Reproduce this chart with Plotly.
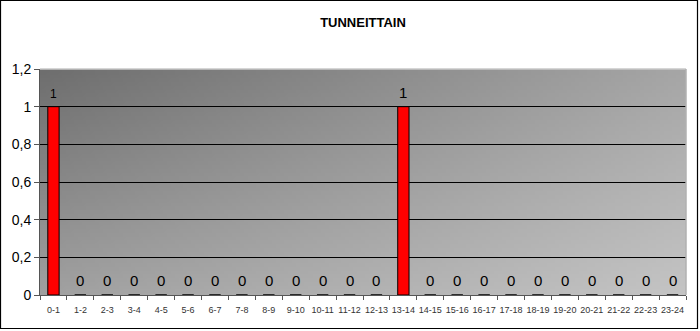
import base64, struct, zlib
import plotly.graph_objects as go

categories = ["0-1", "1-2", "2-3", "3-4", "4-5", "5-6", "6-7", "7-8", "8-9", "9-10",
              "10-11", "11-12", "12-13", "13-14", "14-15", "15-16", "16-17", "17-18",
              "18-19", "19-20", "20-21", "21-22", "22-23", "23-24"]
values = [1, 0, 0, 0, 0, 0, 0, 0, 0, 0, 0, 0, 0, 1, 0, 0, 0, 0, 0, 0, 0, 0, 0, 0]
label_sizes = [12] + [15] * 23
title_text = "TUNNEITTAIN"

FONT = "Liberation Sans, Arial, sans-serif"


def gradient_png(w, h, tl, tr, bl, br):
    rows = b""
    for j in range(h):
        fy = j / (h - 1)
        row = b"\x00"
        for i in range(w):
            fx = i / (w - 1)
            v = (tl * (1 - fx) * (1 - fy) + tr * fx * (1 - fy)
                 + bl * (1 - fx) * fy + br * fx * fy)
            g = int(round(v))
            row += bytes([g, g, g])
        rows += row

    def chunk(t, d):
        c = struct.pack(">I", len(d)) + t + d
        return c + struct.pack(">I", zlib.crc32(t + d) & 0xffffffff)

    png = b"\x89PNG\r\n\x1a\n"
    png += chunk(b"IHDR", struct.pack(">IIBBBBB", w, h, 8, 2, 0, 0, 0))
    png += chunk(b"IDAT", zlib.compress(rows, 9))
    png += chunk(b"IEND", b"")
    return "data:image/png;base64," + base64.b64encode(png).decode()


bg = gradient_png(160, 60, 0x6e, 0xa6, 0xa0, 0xc4)

fig = go.Figure()
fig.add_trace(go.Bar(
    x=categories, y=values, width=0.42,
    marker=dict(color="#ff0000", line=dict(color="#000000", width=1)),
    hoverinfo="x+y",
))

for c, v, s in zip(categories, values, label_sizes):
    fig.add_annotation(x=c, y=v, text=str(v), showarrow=False, yanchor="bottom",
                       yshift=4, font=dict(family=FONT, size=s, color="#000000"))

L, R, T, B, W, H = 40, 14, 69, 36, 700, 331
pw, ph = W - L - R, H - T - B


def px_x(p):
    return (p - L) / pw


def px_y(p):
    return (H - B - p) / ph


fig.add_layout_image(dict(source=bg, xref="paper", yref="paper", x=0, y=1,
                          sizex=1, sizey=1, sizing="stretch", layer="below",
                          xanchor="left", yanchor="top"))

# light edges of the plot area (top & right)
fig.add_shape(type="line", xref="paper", yref="paper", x0=0, x1=1, y0=1, y1=1,
              line=dict(color="#c8c8c8", width=1.5))
fig.add_shape(type="line", xref="paper", yref="paper", x0=1, x1=1, y0=0, y1=1,
              line=dict(color="#b0b0b0", width=1.5))
# outer chart border
fig.add_shape(type="rect", xref="paper", yref="paper",
              x0=px_x(0.5), x1=px_x(697.5), y0=px_y(328.5), y1=px_y(0.5),
              line=dict(color="#000000", width=1.2))

fig.update_layout(
    width=W, height=H,
    margin=dict(l=L, r=R, t=T, b=B),
    paper_bgcolor="#ffffff",
    plot_bgcolor="rgba(0,0,0,0)",
    separators=", ",
    showlegend=False,
    bargap=0.58,
    title=dict(text="<b>" + title_text + "</b>", x=0.5, xref="paper", xanchor="center",
               y=1 - 22 / H, yanchor="middle",
               font=dict(family=FONT, size=13, color="#000000")),
    font=dict(family=FONT),
    xaxis=dict(
        type="category", tickson="boundaries", ticks="outside", ticklen=4,
        tickcolor="#555555", showline=True, linecolor="#555555", linewidth=1,
        showgrid=False, tickfont=dict(family=FONT, size=9, color="#333333"),
        tickangle=0, ticklabelstandoff=6, range=[-0.5, 23.5],
    ),
    yaxis=dict(
        range=[0, 1.2], dtick=0.2, tick0=0, ticks="outside", ticklen=5,
        tickcolor="#555555", showline=True, linecolor="#555555", linewidth=1,
        showgrid=True, gridcolor="#000000", gridwidth=1, zeroline=False,
        tickfont=dict(family=FONT, size=14, color="#000000"),
    ),
)

fig.write_html("out.html")
